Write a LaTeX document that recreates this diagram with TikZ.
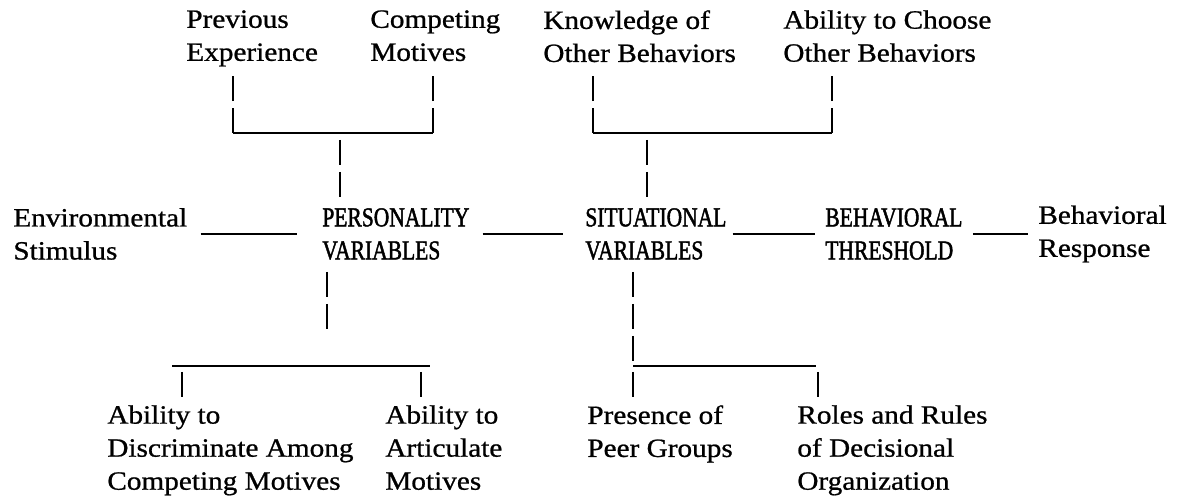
\documentclass[tikz,border=0pt]{standalone}
\usepackage{fontspec}
\setmainfont[FakeStretch=1.11, FakeBold=0.8]{Liberation Serif}
\usetikzlibrary{positioning}

\begin{document}
\begin{tikzpicture}[
  x=0.02cm, y=-0.02cm,
  every node/.style={font=\fontsize{15}{18.8}\selectfont},
  label/.style={anchor=north west, inner sep=0pt, align=left},
  main/.style={anchor=west, inner sep=0pt, align=left},
  caps/.style={main, font=\fontsize{15.5}{18.8}\selectfont\addfontfeature{FakeStretch=0.79, FakeBold=1.6}},
  link/.style={line width=1.1pt},
  bar/.style={line width=1.1pt, dash pattern=on 14.2pt off 4pt},
]
  \useasboundingbox[fill=white] (0,0) rectangle (1182,499);

  % Main chain
  \node[main] (env)  at (13,234)  {Environmental\\Stimulus};
  \node[caps] (pers) at (322,234) {PERSONALITY\\VARIABLES};
  \node[caps] (sit)  at (585,234) {SITUATIONAL\\VARIABLES};
  \node[caps] (thr)  at (825,234) {BEHAVIORAL\\THRESHOLD};
  \node[main] (resp) at (1038,234) {Behavioral\\Response};

  \draw[link, shorten <=7.4pt, shorten >=14.2pt] (env) -- (pers);
  \draw[link, shorten <=7.4pt, shorten >=12.5pt] (pers) -- (sit);
  \draw[link, shorten <=3.4pt, shorten >=5.7pt] (sit) -- (thr);
  \draw[link, shorten <=5.7pt, shorten >=5.7pt] (thr) -- (resp);

  % Upper inputs
  \node[label] (prev)   at (186,10) {Previous\\Experience};
  \node[label] (comp)   at (370,10) {Competing\\Motives};
  \node[label] (know)   at (543,10) {Knowledge of\\Other Behaviors};
  \node[label] (choose) at (783,10) {Ability to Choose\\Other Behaviors};

  \coordinate (pl) at (233,133);
  \coordinate (pr) at (433,133);
  \coordinate (pm) at (340,140);
  \draw[bar] (pl) -- ++(0,-58);
  \draw[bar] (pr) -- ++(0,-58);
  \draw[link] (pl) -- (pr);
  \draw[bar] (pm) -- ++(0,60);

  \coordinate (sl) at (593,133);
  \coordinate (sr) at (832,133);
  \coordinate (sm) at (647,140);
  \draw[bar] (sl) -- ++(0,-58);
  \draw[bar] (sr) -- ++(0,-58);
  \draw[link] (sl) -- (sr);
  \draw[bar] (sm) -- ++(0,60);

  % Lower inputs
  \node[label] (discr) at (107,405) {Ability to\\Discriminate Among\\Competing Motives};
  \node[label] (artic) at (385,405) {Ability to\\Articulate\\Motives};
  \node[label] (peer)  at (587,405) {Presence of\\Peer Groups};
  \node[label] (roles) at (797,405) {Roles and Rules\\of Decisional\\Organization};

  \coordinate (pd) at (327,272);
  \draw[bar] (pd) -- ++(0,58);
  \draw[link] (172,366) -- (430,366);
  \draw[bar] (182,372) -- ++(0,25);
  \draw[bar] (421,372) -- ++(0,25);

  \coordinate (sd) at (633,272);
  \draw[bar] (sd) -- (sd |- 0,367);
  \draw[link] (633,366) -- (816,366);
  \draw[bar] (633,372) -- ++(0,25);
  \draw[bar] (818,372) -- ++(0,25);
\end{tikzpicture}
\end{document}
